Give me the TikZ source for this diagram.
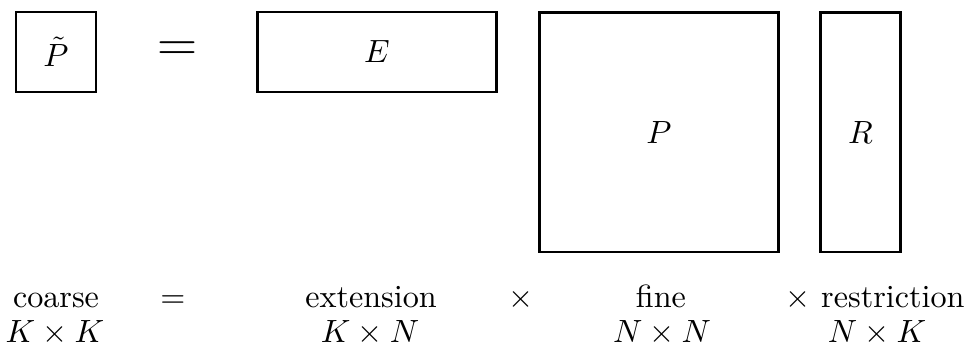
\documentclass[tikz,border=0pt]{standalone}
\usepackage{tikz}
\usetikzlibrary{positioning}
\newcommand{\ksize}{24.9pt}
\newcommand{\nsize}{74.6pt}
\tikzstyle{matbox} = [rectangle, draw=black, line width=0.9pt, inner sep=0pt, text centered]
\tikzstyle{lbl} = [anchor=base, inner sep=0pt]

\begin{document}
\begin{tikzpicture}[x=0.311pt, y=-0.311pt]
    \useasboundingbox (0,0) rectangle (965,345);
    % Matrices
    \node (coarse) [matbox, minimum width=\ksize, minimum height=\ksize] at (56,52) {$\tilde{P}$};
    \node (equals) [font=\LARGE, inner sep=0pt] at (177,52) {$=$};
    \node (ext) [matbox, minimum width=\nsize, minimum height=\ksize] at (377,52) {$E$};
    \node (fine) [matbox, minimum width=\nsize, minimum height=\nsize] at (659,132) {$P$};
    \node (restr) [matbox, minimum width=\ksize, minimum height=\nsize, right=12pt of fine] {$R$};

    % Captions
    \node (coarsetxt) [lbl] at (56,307) {coarse};
    \node (kk) [lbl] at (55,342) {$K\times K$};
    \node (eqtxt) [lbl] at (173,307) {$=$};
    \node (exttxt) [lbl] at (371,307) {extension};
    \node (kn) [lbl] at (370,342) {$K\times N$};
    \node (timestxt) [lbl] at (521,307) {$\times$};
    \node (finetxt) [lbl] at (661,307) {fine};
    \node (nn) [lbl] at (662,342) {$N\times N$};
    \node (restrtxt) [lbl] at (875,307) {$\times$ restriction};
    \node (nk) [lbl] at (877,342) {$N\times K$};
\end{tikzpicture}
\end{document}
